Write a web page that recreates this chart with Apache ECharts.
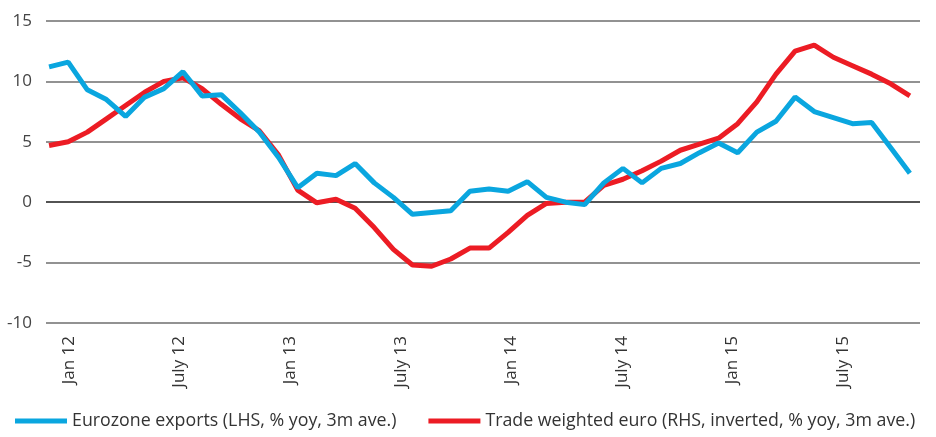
<!DOCTYPE html>
<html>
<head>
<meta charset="utf-8">
<script src="https://cdn.jsdelivr.net/npm/echarts@6/dist/echarts.min.js"></script>
<style>
  html, body { margin: 0; padding: 0; background: #fff; }
  #main { width: 936px; height: 437px; }
</style>
</head>
<body>
<div id="main"></div>
<script>
// monthly points, Dec 11 .. Sep 15
var months = ['Dec 11','Jan 12','Feb 12','Mar 12','Apr 12','May 12','Jun 12','Jul 12','Aug 12','Sep 12','Oct 12','Nov 12',
  'Dec 12','Jan 13','Feb 13','Mar 13','Apr 13','May 13','Jun 13','Jul 13','Aug 13','Sep 13','Oct 13','Nov 13',
  'Dec 13','Jan 14','Feb 14','Mar 14','Apr 14','May 14','Jun 14','Jul 14','Aug 14','Sep 14','Oct 14','Nov 14',
  'Dec 14','Jan 15','Feb 15','Mar 15','Apr 15','May 15','Jun 15','Jul 15','Aug 15','Sep 15'];

var exportsYoy = [11.2, 11.6, 9.3, 8.5, 7.1, 8.7, 9.4, 10.8, 8.8, 8.9, 7.4, 5.8,
  3.7, 1.2, 2.4, 2.2, 3.2, 1.6, 0.4, -1.0, -0.85, -0.7, 0.9, 1.1,
  0.9, 1.7, 0.4, 0.0, -0.2, 1.6, 2.8, 1.6, 2.8, 3.2, 4.1, 4.9,
  4.1, 5.8, 6.7, 8.7, 7.5, 7.0, 6.5, 6.6, 4.5, 2.4];

var euroInverted = [4.7, 5.0, 5.8, 6.9, 8.0, 9.1, 10.0, 10.3, 9.4, 8.1, 6.9, 5.9,
  3.9, 1.0, -0.05, 0.25, -0.5, -2.1, -3.9, -5.2, -5.3, -4.7, -3.8, -3.8,
  -2.5, -1.1, -0.1, 0.0, 0.0, 1.4, 1.9, 2.6, 3.4, 4.3, 4.8, 5.3,
  6.5, 8.3, 10.6, 12.5, 13.0, 12.0, 11.3, 10.6, 9.8, 8.8];

// tick labels, in months from Jan 12
var tickMonths = [0, 6, 12, 18, 24, 30, 36, 42];
var tickLabels = ['Jan 12','July 12','Jan 13','July 13','Jan 14','July 14','Jan 15','July 15'];

var blue = '#0aa6df';
var red = '#ec1c24';

function pairs(vals) {
  return vals.map(function (v, i) { return [i, v, months[i]]; });
}

var myChart = echarts.init(document.getElementById('main'));
myChart.setOption({
  animation: false,
  textStyle: { fontFamily: 'Open Sans' },
  grid: { left: 46, right: 16, top: 21, bottom: 114 },
  legend: {
    bottom: 2,
    left: 10,
    itemWidth: 52,
    itemHeight: 5,
    itemGap: 32,
    itemTextGap: 8,
    icon: 'rect',
    textStyle: { fontSize: 17.8, color: '#333', fontFamily: 'Open Sans' },
    data: ['Eurozone exports (LHS, % yoy, 3m ave.)', 'Trade weighted euro (RHS, inverted, % yoy, 3m ave.)']
  },
  xAxis: [{
    type: 'value',
    min: -0.16,
    max: 45.53,
    show: false,
    splitLine: { show: false }
  }, {
    type: 'value',
    min: -1.25,
    max: 46.17,
    position: 'bottom',
    axisLine: { show: false },
    axisTick: { show: false },
    splitLine: { show: false },
    axisLabel: {
      customValues: tickMonths,
      rotate: 90,
      margin: 13,
      fontSize: 17,
      color: '#333',
      formatter: function (v) { return tickLabels[tickMonths.indexOf(v)] || ''; }
    }
  }],
  yAxis: {
    type: 'value',
    min: -10,
    max: 15,
    interval: 5,
    axisLine: { show: false },
    axisTick: { show: false },
    axisLabel: { fontSize: 17, color: '#444', margin: 14 },
    splitLine: { lineStyle: { color: ['#6e6e6e', '#6e6e6e', '#1a1a1a', '#6e6e6e', '#6e6e6e', '#6e6e6e'], width: 1.5 } }
  },
  series: [{
    name: 'Trade weighted euro (RHS, inverted, % yoy, 3m ave.)',
    type: 'line',
    xAxisIndex: 0,
    data: pairs(euroInverted),
    symbol: 'none',
    lineStyle: { color: red, width: 5 },
    itemStyle: { color: red }
  }, {
    name: 'Eurozone exports (LHS, % yoy, 3m ave.)',
    type: 'line',
    xAxisIndex: 0,
    data: pairs(exportsYoy),
    symbol: 'none',
    lineStyle: { color: blue, width: 5 },
    itemStyle: { color: blue }
  }]
});
</script>
</body>
</html>
